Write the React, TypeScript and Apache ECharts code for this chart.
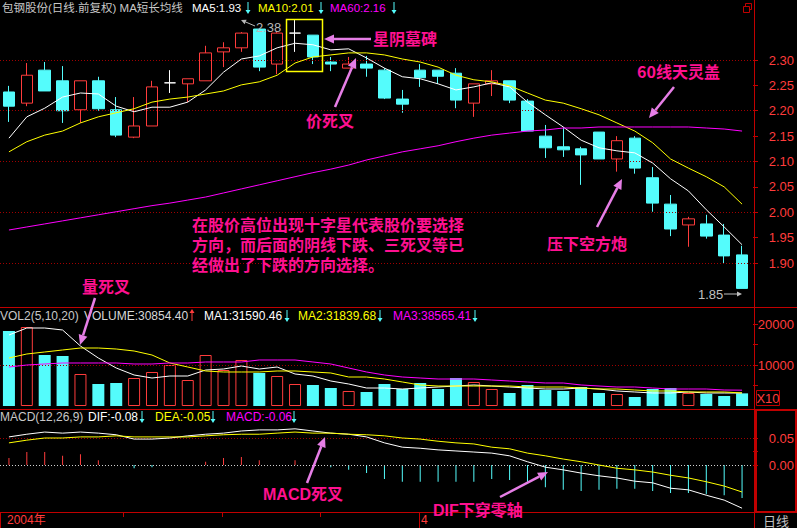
import React, { useEffect, useRef } from "react";
import * as echarts from "echarts";

// ---------- data ----------
// candles: [open, close, low, high]
const candles: number[][] = [
  [2.237, 2.209, 2.178, 2.249],
  [2.215, 2.270, 2.209, 2.294],
  [2.280, 2.239, 2.239, 2.296],
  [2.259, 2.200, 2.176, 2.288],
  [2.202, 2.259, 2.176, 2.259],
  [2.259, 2.204, 2.200, 2.267],
  [2.202, 2.152, 2.148, 2.227],
  [2.148, 2.170, 2.146, 2.227],
  [2.170, 2.247, 2.170, 2.259],
  [2.255, 2.255, 2.235, 2.280],
  [2.253, 2.263, 2.217, 2.263],
  [2.259, 2.314, 2.259, 2.328],
  [2.316, 2.324, 2.286, 2.335],
  [2.324, 2.353, 2.316, 2.355],
  [2.361, 2.286, 2.278, 2.361],
  [2.292, 2.353, 2.272, 2.355],
  [2.353, 2.353, 2.316, 2.380],
  [2.349, 2.306, 2.292, 2.349],
  [2.296, 2.292, 2.278, 2.306],
  [2.284, 2.292, 2.284, 2.306],
  [2.292, 2.284, 2.267, 2.308],
  [2.280, 2.225, 2.223, 2.284],
  [2.223, 2.213, 2.196, 2.241],
  [2.280, 2.265, 2.247, 2.292],
  [2.280, 2.268, 2.253, 2.280],
  [2.274, 2.221, 2.205, 2.284],
  [2.215, 2.253, 2.188, 2.253],
  [2.253, 2.259, 2.229, 2.280],
  [2.259, 2.221, 2.215, 2.259],
  [2.219, 2.160, 2.160, 2.223],
  [2.150, 2.127, 2.107, 2.172],
  [2.129, 2.123, 2.109, 2.168],
  [2.125, 2.113, 2.054, 2.129],
  [2.158, 2.105, 2.105, 2.158],
  [2.105, 2.141, 2.080, 2.150],
  [2.146, 2.087, 2.076, 2.150],
  [2.068, 2.018, 2.001, 2.089],
  [2.016, 1.967, 1.953, 2.034],
  [1.975, 1.987, 1.932, 1.991],
  [1.977, 1.953, 1.948, 1.995],
  [1.955, 1.914, 1.900, 1.977],
  [1.916, 1.850, 1.850, 1.934],
];
const ma5 = [2.146, 2.188, 2.205, 2.227, 2.235, 2.233, 2.209, 2.198, 2.207, 2.207, 2.217, 2.241, 2.276, 2.302, 2.308, 2.324, 2.333, 2.330, 2.320, 2.322, 2.304, 2.284, 2.267, 2.263, 2.253, 2.241, 2.247, 2.255, 2.247, 2.217, 2.192, 2.168, 2.142, 2.127, 2.121, 2.117, 2.097, 2.066, 2.042, 2.005, 1.971, 1.936];
const ma10 = [2.119, 2.139, 2.152, 2.160, 2.176, 2.188, 2.196, 2.204, 2.217, 2.223, 2.227, 2.233, 2.239, 2.251, 2.257, 2.270, 2.294, 2.306, 2.310, 2.314, 2.314, 2.310, 2.302, 2.296, 2.286, 2.270, 2.261, 2.257, 2.249, 2.235, 2.221, 2.215, 2.204, 2.192, 2.176, 2.160, 2.137, 2.105, 2.087, 2.070, 2.050, 2.016];
const ma60 = [1.965, 1.971, 1.977, 1.983, 1.989, 1.995, 2.001, 2.007, 2.013, 2.018, 2.024, 2.030, 2.038, 2.046, 2.054, 2.062, 2.070, 2.078, 2.085, 2.093, 2.103, 2.111, 2.119, 2.125, 2.131, 2.139, 2.146, 2.152, 2.156, 2.160, 2.162, 2.166, 2.166, 2.168, 2.168, 2.168, 2.168, 2.168, 2.168, 2.166, 2.164, 2.160];

const volume = [18293, 19268, 12439, 12195, 7805, 5366, 5610, 6829, 8293, 10000, 6341, 12439, 8780, 11220, 8049, 7317, 5366, 5122, 4390, 3659, 3415, 5366, 4146, 5610, 4146, 6829, 5854, 4146, 3171, 5122, 3902, 3659, 4634, 3171, 2927, 2195, 4146, 4390, 3171, 2927, 2439, 3085];
const volMa1 = [17317, 19024, 19024, 18537, 14634, 11707, 9268, 7561, 6829, 7317, 7317, 8780, 9024, 9756, 9024, 9512, 7805, 7317, 6098, 5366, 4390, 4390, 4146, 4390, 4634, 4878, 5122, 4878, 4634, 4390, 4146, 4146, 4390, 4146, 3659, 3415, 3171, 3171, 3415, 3171, 3171, 3159];
const volMa2 = [11707, 12683, 13171, 13659, 14146, 14146, 13902, 13415, 12439, 10488, 9512, 8537, 8293, 8293, 8293, 8537, 8537, 8293, 8049, 7073, 7073, 6585, 5854, 5122, 4878, 4878, 4878, 4878, 4878, 4634, 4634, 4634, 4390, 4146, 4146, 3902, 3659, 3659, 3415, 3415, 3415, 3184];
const volMa3 = [9512, 10000, 10244, 10488, 10488, 10488, 10488, 10244, 10244, 10488, 10488, 10732, 10732, 10732, 11220, 11220, 11220, 10732, 10244, 9268, 8293, 7561, 7073, 6829, 6585, 6585, 6585, 6341, 6098, 5854, 5610, 5610, 5122, 4878, 4634, 4634, 4390, 4146, 4146, 4146, 3902, 3857];

const dif = [0.052, 0.057, 0.061, 0.059, 0.061, 0.059, 0.056, 0.048, 0.048, 0.050, 0.054, 0.057, 0.059, 0.063, 0.065, 0.065, 0.067, 0.063, 0.059, 0.057, 0.052, 0.041, 0.033, 0.031, 0.028, 0.026, 0.024, 0.022, 0.017, 0.006, -0.004, -0.009, -0.015, -0.020, -0.024, -0.030, -0.033, -0.043, -0.046, -0.056, -0.065, -0.080];
const dea = [0.041, 0.046, 0.050, 0.050, 0.052, 0.052, 0.054, 0.052, 0.052, 0.052, 0.052, 0.054, 0.056, 0.057, 0.057, 0.059, 0.061, 0.059, 0.059, 0.057, 0.056, 0.054, 0.050, 0.048, 0.044, 0.041, 0.039, 0.033, 0.030, 0.022, 0.017, 0.011, 0.006, 0.000, -0.006, -0.009, -0.013, -0.019, -0.024, -0.031, -0.039, -0.050];
const macdHist = [0.013, 0.024, 0.024, 0.017, 0.020, 0.009, 0, -0.006, -0.004, 0, 0, 0.006, 0.013, 0.015, 0.009, 0, 0.009, 0, -0.004, -0.009, -0.015, -0.026, -0.031, -0.031, -0.031, -0.031, -0.031, -0.026, -0.028, -0.031, -0.041, -0.046, -0.048, -0.046, -0.044, -0.044, -0.048, -0.052, -0.052, -0.054, -0.056, -0.061];

const priceTicks = [1.9, 1.95, 2.0, 2.05, 2.1, 2.15, 2.2, 2.25, 2.3];
const priceGridLines = [1.9, 2.0, 2.1, 2.2, 2.3];
const volLabels = [10000, 20000];
const volTicks = [5000, 10000, 15000, 20000];
const macdLabels = [0, 0.05];
const macdTicks = [0, 0.025, 0.05];

const days = candles.map((_, i) => String(i + 1));

// ---------- styles ----------
const CYAN = "#54fcfc";
const UP = "#ff3c3c";
const FRAME = "#c00000";
const LABEL = "#ff3c3c";
const DOT = "#a00000";
const PINK = "#ff1090";
const VIOLET = "#e67ee6";
const SANS = "'Liberation Sans', Arial, 'Noto Sans CJK SC', sans-serif";
const CJK = "'Noto Sans CJK SC', 'Liberation Sans', sans-serif";

function txt(x: number, y: number, text: string, fill: string, size = 12, family = SANS, weight = "normal", align = "left", lineHeight?: number) {
  const style: any = { text, fill, fontSize: size, fontFamily: family, fontWeight: weight, textAlign: align, textVerticalAlign: "middle", align, verticalAlign: "middle" };
  if (lineHeight) style.lineHeight = lineHeight;
  return { type: "text", x, y, silent: true, z: 100, style };
}
function arrow(x1: number, y1: number, x2: number, y2: number, color: string, w = 2.5, head = 10, hw = 4.5) {
  const a = Math.atan2(y2 - y1, x2 - x1);
  const bx = x2 - head * Math.cos(a), by = y2 - head * Math.sin(a);
  const px = -Math.sin(a) * hw, py = Math.cos(a) * hw;
  return [
    { type: "line", silent: true, z: 100, shape: { x1, y1, x2: bx, y2: by }, style: { stroke: color, lineWidth: w } },
    { type: "polygon", silent: true, z: 100, shape: { points: [[x2, y2], [bx + px, by + py], [bx - px, by - py]] }, style: { fill: color } },
  ];
}
function line(x1: number, y1: number, x2: number, y2: number, color = FRAME, w = 1) {
  return { type: "line", silent: true, z: 90, shape: { x1, y1, x2, y2 }, style: { stroke: color, lineWidth: w } };
}
function rect(x: number, y: number, width: number, height: number, stroke: string, w = 1, fill = "none") {
  return { type: "rect", silent: true, z: 90, shape: { x, y, width, height }, style: { stroke, fill, lineWidth: w } };
}
const down = (x: number, y1: number, y2: number) => arrow(x, y1, x, y2, CYAN, 1, 4, 2.5);
const upA = (x: number, y1: number, y2: number) => arrow(x, y1, x, y2, UP, 1, 4, 2.5);

function yAxis(gridIndex: number, min: number, max: number, labels: number[], ticks: number[], digits: number) {
  return {
    type: "value", gridIndex, position: "right", offset: 2, min, max,
    axisLine: { show: false },
    axisTick: { show: true, length: 5, lineStyle: { color: FRAME }, customValues: ticks },
    axisLabel: { show: true, customValues: labels, color: LABEL, fontSize: 13, fontFamily: SANS, align: "right", margin: 41, formatter: (v: number) => v.toFixed(digits) },
    splitLine: { show: false },
  };
}
const dotted = (vals: number[], color: string) => ({
  silent: true, symbol: ["none", "none"], label: { show: false }, animation: false,
  lineStyle: { color, type: [1, 2], width: 1 },
  data: vals.map((v) => ({ yAxis: v })),
});

export default function App() {
  const ref = useRef<HTMLDivElement>(null);
  useEffect(() => {
    const chart = echarts.init(ref.current!, null, { renderer: "svg" });
    const candleItems = candles.map((c) =>
      c[0] === c[1]
        ? { value: c, itemStyle: { color: "#fff", color0: "#fff", borderColor: "#fff", borderColor0: "#fff" } }
        : { value: c }
    );
    const volItems = volume.map((v, i) =>
      candles[i][1] >= candles[i][0]
        ? { value: v, itemStyle: { color: "#000", borderColor: UP, borderWidth: 1 } }
        : { value: v, itemStyle: { color: CYAN } }
    );
    const histItems = macdHist.map((v) => ({ value: v, itemStyle: { color: v >= 0 ? UP : CYAN } }));
    const lineS = (data: number[], color: string, xi: number) => ({
      type: "line", data, xAxisIndex: xi, yAxisIndex: xi, symbol: "none", silent: true,
      lineStyle: { color, width: 1 }, itemStyle: { color }, z: 5,
    });

    const graphic: any[] = [
      // frames
      line(0, 307.5, 797, 307.5), line(0, 409.5, 797, 409.5), line(0, 512.5, 797, 512.5),
      line(754.5, 0, 754.5, 528),
      line(0.5, 513, 0.5, 528), line(419.5, 513, 419.5, 528),
      line(123.5, 513, 123.5, 517), line(222.5, 513, 222.5, 517), line(320.5, 513, 320.5, 517),
      rect(756, 410, 40, 102, FRAME, 2),
      rect(756.5, 390.5, 23, 15, FRAME, 1),
      txt(768, 398, "X10", LABEL, 13, SANS, "normal", "center"),
      rect(745.5, 3.5, 6, 6, FRAME, 1),
      rect(743.5, 6.5, 6, 6, FRAME, 1, "#000"),
      // header
      txt(2, 8, "包钢股份(日线.前复权) MA短长均线", "#c8c8c8", 11.5),
      txt(192, 8, "MA5:1.93", "#ffffff", 11.5),
      txt(258, 8, "MA10:2.01", "#ffff00", 11.5),
      txt(330, 8, "MA60:2.16", "#ff00ff", 11.5),
      ...down(248, 2, 14), ...down(321, 2, 14), ...down(394, 2, 14),
      // volume header
      txt(0, 316, "VOL2(5,10,20)", "#c8c8c8", 12),
      txt(84, 316, "VOLUME:30854.40", "#d8d8d8", 12),
      ...upA(192, 321, 309),
      txt(204, 316, "MA1:31590.46", "#ffffff", 12),
      ...down(287, 310, 322),
      txt(298, 316, "MA2:31839.68", "#ffff00", 12),
      ...down(380, 310, 322),
      txt(393, 316, "MA3:38565.41", "#ff00ff", 12),
      ...down(475, 310, 322),
      // macd header
      txt(0, 417, "MACD(12,26,9)", "#c8c8c8", 12),
      txt(88, 417, "DIF:-0.08", "#ffffff", 12),
      ...down(142, 411, 423),
      txt(155, 417, "DEA:-0.05", "#ffff00", 12),
      ...down(213, 411, 423),
      txt(226, 417, "MACD:-0.06", "#ff00ff", 12),
      ...down(294, 411, 423),
      // bottom bar
      txt(7, 520, "2004年", LABEL, 12),
      txt(421, 520, "4", LABEL, 12),
      txt(763, 520, "日线", "#c0c0c0", 13, CJK),
      // high / low marks
      txt(256, 27, "2.38", "#b8b8b8", 13),
      ...arrow(255, 26, 241, 20, "#b8b8b8", 1, 5, 2.5),
      txt(698, 294, "1.85", "#c0c0c0", 13),
      ...arrow(724, 294, 742, 294, "#c0c0c0", 1, 5, 2.5),
      // annotations
      rect(286.5, 19.5, 36, 52, "#ffff00", 1.5),
      txt(373, 38, "星阴墓碑", PINK, 16, CJK, "bold"),
      ...arrow(371, 39, 324, 39, VIOLET),
      txt(306, 120, "价死叉", PINK, 16, CJK, "bold"),
      ...arrow(335, 107, 356, 58, VIOLET),
      txt(637, 71, "60线天灵盖", PINK, 16, CJK, "bold"),
      ...arrow(674, 87, 649, 118, VIOLET),
      txt(192, 245, "在股价高位出现十字星代表股价要选择\n方向，而后面的阴线下跌、三死叉等已\n经做出了下跌的方向选择。", PINK, 16, SANS, "bold", "left", 20),
      txt(547, 243, "压下空方炮", PINK, 16, CJK, "bold"),
      ...arrow(597, 227, 622, 179, VIOLET),
      txt(82, 286, "量死叉", PINK, 16, CJK, "bold"),
      ...arrow(95, 298, 80, 345, VIOLET),
      txt(263, 494, "MACD死叉", PINK, 16, SANS, "bold"),
      ...arrow(307, 483, 325, 437, VIOLET),
      txt(433, 510, "DIF下穿零轴", PINK, 16, SANS, "bold"),
      ...arrow(500, 497, 548, 472, VIOLET),
    ];

    const option: any = {
      animation: false,
      backgroundColor: "#000000",
      grid: [
        { left: -2, right: 45, top: 14, height: 293 },
        { left: -2, right: 45, top: 309, height: 97 },
        { left: -2, right: 45, top: 411, height: 101 },
      ],
      xAxis: [0, 1, 2].map((g) => ({ type: "category", gridIndex: g, data: days, show: false, boundaryGap: true })),
      yAxis: [
        yAxis(0, 2.3 - 247 / 507.5, 2.3 + 46 / 507.5, priceTicks, priceTicks, 2),
        yAxis(1, 0, 97 / 0.0041, volLabels, volTicks, 0),
        yAxis(2, 0.1 - 101 / 540, 0.1, macdLabels, macdTicks, 2),
      ],
      series: [
        {
          type: "candlestick", xAxisIndex: 0, yAxisIndex: 0, barWidth: 12, silent: true,
          data: candleItems,
          itemStyle: { color: "#000", color0: CYAN, borderColor: UP, borderColor0: CYAN, borderWidth: 1 },
          markLine: dotted(priceGridLines, DOT),
        },
        lineS(ma5, "#ffffff", 0),
        lineS(ma10, "#ffff00", 0),
        lineS(ma60, "#ff00ff", 0),
        {
          type: "bar", xAxisIndex: 1, yAxisIndex: 1, barWidth: 12, silent: true, data: volItems,
          markLine: dotted([10000], DOT),
        },
        lineS(volMa1, "#ffffff", 1),
        lineS(volMa2, "#ffff00", 1),
        lineS(volMa3, "#ff00ff", 1),
        {
          type: "bar", xAxisIndex: 2, yAxisIndex: 2, barWidth: 1, silent: true, data: histItems,
          markLine: {
            silent: true, symbol: ["none", "none"], label: { show: false }, animation: false,
            data: [
              { yAxis: 0.05, lineStyle: { color: DOT, type: [1, 2], width: 1 } },
              { yAxis: 0, lineStyle: { color: "#d0d0d0", type: [1, 2], width: 1 } },
            ],
          },
        },
        lineS(dif, "#ffffff", 2),
        lineS(dea, "#ffff00", 2),
      ],
      graphic,
    };
    chart.setOption(option);
    return () => chart.dispose();
  }, []);
  return <div ref={ref} style={{ position: "fixed", left: 0, top: 0, width: 797, height: 528, background: "#000" }} />;
}
